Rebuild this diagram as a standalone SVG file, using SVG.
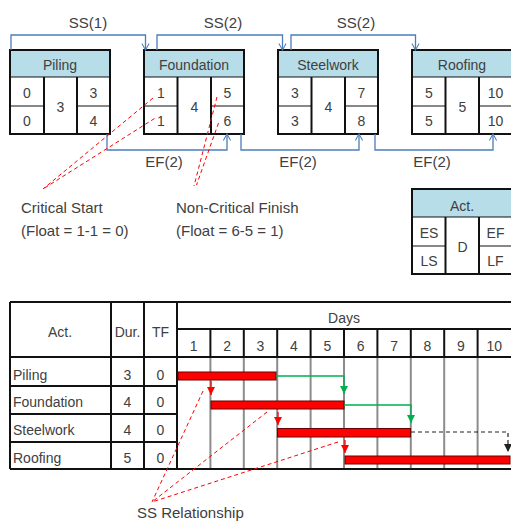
<svg xmlns="http://www.w3.org/2000/svg" width="511" height="522" viewBox="0 0 511 522">
<defs>
<style>
text{font-family:"Liberation Sans",Arial,sans-serif;fill:#404040;}
.t14{font-size:14px;}
.t15{font-size:15px;}
.c{text-anchor:middle;}
.hdr{fill:#b7dde8;}
.box{fill:none;stroke:#111;stroke-width:2;}
.ln{stroke:#111;stroke-width:2;fill:none;}
.thin{stroke:#111;stroke-width:1;fill:none;}
.blue{stroke:#4a7ebb;stroke-width:1.3;fill:none;}
.reddash{stroke:#ff0000;stroke-width:1;stroke-dasharray:4,3;fill:none;}
.gray{stroke:#8c8c8c;stroke-width:2;fill:none;}
.bar{fill:#ff0000;stroke:#6b0000;stroke-width:1;}
.green{stroke:#00b050;stroke-width:1.3;fill:none;}
.red{stroke:#ff0000;stroke-width:1.3;fill:none;}
.blk{stroke:#222;stroke-width:1.2;fill:none;stroke-dasharray:4,3;}
</style>
<marker id="chev" viewBox="0 0 10 10" refX="9" refY="5" markerWidth="8" markerHeight="9" markerUnits="userSpaceOnUse" orient="auto">
<path d="M1,0.5 L9,5 L1,9.5" fill="none" stroke="#4a7ebb" stroke-width="1.3"/>
</marker>
<marker id="tg" viewBox="0 0 10 10" refX="10" refY="5" markerWidth="8" markerHeight="9" markerUnits="userSpaceOnUse" orient="auto">
<path d="M0,0 L10,5 L0,10 Z" fill="#00b050"/>
</marker>
<marker id="tr" viewBox="0 0 10 10" refX="10" refY="5" markerWidth="8" markerHeight="9" markerUnits="userSpaceOnUse" orient="auto">
<path d="M0,0 L10,5 L0,10 Z" fill="#ff0000"/>
</marker>
<marker id="tk" viewBox="0 0 10 10" refX="10" refY="5" markerWidth="8" markerHeight="9" markerUnits="userSpaceOnUse" orient="auto">
<path d="M0,0 L10,5 L0,10 Z" fill="#222"/>
</marker>
</defs>
<rect width="511" height="522" fill="#fff"/>

<!-- Network nodes -->
<g id="node-piling">
<rect class="hdr" x="10" y="50" width="100" height="27"/>
<rect class="box" x="10" y="50" width="100" height="84"/>
<line class="thin" x1="10" y1="77" x2="110" y2="77"/>
<line class="ln" x1="44" y1="77" x2="44" y2="134"/>
<line class="ln" x1="77" y1="77" x2="77" y2="134"/>
<line class="thin" x1="10" y1="106" x2="44" y2="106"/>
<line class="thin" x1="77" y1="106" x2="110" y2="106"/>
<text class="t14 c" x="60" y="70">Piling</text>
<text class="t14 c" x="27" y="98">0</text>
<text class="t14 c" x="27" y="126">0</text>
<text class="t14 c" x="60.5" y="112">3</text>
<text class="t14 c" x="93.5" y="98">3</text>
<text class="t14 c" x="93.5" y="126">4</text>
</g>
<g id="node-foundation">
<rect class="hdr" x="144" y="50" width="100" height="27"/>
<rect class="box" x="144" y="50" width="100" height="84"/>
<line class="thin" x1="144" y1="77" x2="244" y2="77"/>
<line class="ln" x1="177.5" y1="77" x2="177.5" y2="134"/>
<line class="ln" x1="211" y1="77" x2="211" y2="134"/>
<line class="thin" x1="144" y1="106" x2="177.5" y2="106"/>
<line class="thin" x1="211" y1="106" x2="244" y2="106"/>
<text class="t14 c" x="194" y="70">Foundation</text>
<text class="t14 c" x="161" y="98">1</text>
<text class="t14 c" x="161" y="126">1</text>
<text class="t14 c" x="194.5" y="112">4</text>
<text class="t14 c" x="227.5" y="98">5</text>
<text class="t14 c" x="227.5" y="126">6</text>
</g>
<g id="node-steelwork">
<rect class="hdr" x="278" y="50" width="100" height="27"/>
<rect class="box" x="278" y="50" width="100" height="84"/>
<line class="thin" x1="278" y1="77" x2="378" y2="77"/>
<line class="ln" x1="311.5" y1="77" x2="311.5" y2="134"/>
<line class="ln" x1="345" y1="77" x2="345" y2="134"/>
<line class="thin" x1="278" y1="106" x2="311.5" y2="106"/>
<line class="thin" x1="345" y1="106" x2="378" y2="106"/>
<text class="t14 c" x="328" y="70">Steelwork</text>
<text class="t14 c" x="295" y="98">3</text>
<text class="t14 c" x="295" y="126">3</text>
<text class="t14 c" x="328.5" y="112">4</text>
<text class="t14 c" x="361.5" y="98">7</text>
<text class="t14 c" x="361.5" y="126">8</text>
</g>
<g id="node-roofing">
<rect class="hdr" x="412" y="50" width="100" height="27"/>
<rect class="box" x="412" y="50" width="100" height="84"/>
<line class="thin" x1="412" y1="77" x2="512" y2="77"/>
<line class="ln" x1="445.5" y1="77" x2="445.5" y2="134"/>
<line class="ln" x1="479" y1="77" x2="479" y2="134"/>
<line class="thin" x1="412" y1="106" x2="445.5" y2="106"/>
<line class="thin" x1="479" y1="106" x2="512" y2="106"/>
<text class="t14 c" x="462" y="70">Roofing</text>
<text class="t14 c" x="429" y="98">5</text>
<text class="t14 c" x="429" y="126">5</text>
<text class="t14 c" x="462.5" y="112">5</text>
<text class="t14 c" x="495.5" y="98">10</text>
<text class="t14 c" x="495.5" y="126">10</text>
</g>
<g id="node-legend">
<rect class="hdr" x="412" y="189" width="100" height="28"/>
<rect class="box" x="412" y="189" width="100" height="85"/>
<line class="thin" x1="412" y1="217" x2="512" y2="217"/>
<line class="ln" x1="445.5" y1="217" x2="445.5" y2="274"/>
<line class="ln" x1="479" y1="217" x2="479" y2="274"/>
<line class="thin" x1="412" y1="246" x2="445.5" y2="246"/>
<line class="thin" x1="479" y1="246" x2="512" y2="246"/>
<text class="t14 c" x="462" y="211">Act.</text>
<text class="t14 c" x="429" y="238">ES</text>
<text class="t14 c" x="429" y="266">LS</text>
<text class="t14 c" x="462.5" y="252">D</text>
<text class="t14 c" x="495.5" y="238">EF</text>
<text class="t14 c" x="495.5" y="266">LF</text>
</g>

<!-- Network connectors -->
<g id="connectors">
<path class="blue" d="M11,50 V35 H145.5 V50" marker-end="url(#chev)"/>
<path class="blue" d="M157,50 V35 H282.5 V50" marker-end="url(#chev)"/>
<path class="blue" d="M291,50 V35 H415.5 V50" marker-end="url(#chev)"/>
<path class="blue" d="M107,134 V150 H227 V134" marker-end="url(#chev)"/>
<path class="blue" d="M241,134 V150 H359 V134" marker-end="url(#chev)"/>
<path class="blue" d="M375,134 V150 H493 V134" marker-end="url(#chev)"/>
<text class="t15 c" x="88" y="28">SS(1)</text>
<text class="t15 c" x="223" y="28">SS(2)</text>
<text class="t15 c" x="356" y="28">SS(2)</text>
<text class="t15 c" x="164" y="167">EF(2)</text>
<text class="t15 c" x="298" y="167">EF(2)</text>
<text class="t15 c" x="432" y="167">EF(2)</text>
</g>

<!-- Annotations -->
<g id="annotations">
<path class="reddash" d="M153,98 L43,189"/>
<path class="reddash" d="M154.5,118.5 L43,189"/>
<path class="reddash" d="M217,97 L194,186"/>
<path class="reddash" d="M218.5,123 L196.5,185"/>
<text class="t15" x="21" y="213">Critical  Start</text>
<text class="t15" x="21" y="236">(Float = 1-1 = 0)</text>
<text class="t15" x="176" y="213">Non-Critical Finish</text>
<text class="t15" x="176" y="236">(Float = 6-5 = 1)</text>
</g>

<!-- Gantt chart -->
<g id="gantt-grid">
<line class="gray" x1="210.4" y1="357" x2="210.4" y2="469"/>
<line class="gray" x1="243.8" y1="357" x2="243.8" y2="469"/>
<line class="gray" x1="277.2" y1="357" x2="277.2" y2="469"/>
<line class="gray" x1="310.6" y1="357" x2="310.6" y2="469"/>
<line class="gray" x1="344" y1="357" x2="344" y2="469"/>
<line class="gray" x1="377.4" y1="357" x2="377.4" y2="469"/>
<line class="gray" x1="410.8" y1="357" x2="410.8" y2="469"/>
<line class="gray" x1="444.2" y1="357" x2="444.2" y2="469"/>
<line class="gray" x1="477.6" y1="357" x2="477.6" y2="469"/>
<line class="ln" x1="10" y1="302" x2="511" y2="302"/>
<line class="ln" x1="177" y1="329" x2="511" y2="329"/>
<line class="ln" x1="10" y1="357" x2="511" y2="357"/>
<line class="ln" x1="10" y1="386" x2="178" y2="386"/>
<line class="ln" x1="10" y1="414" x2="178" y2="414"/>
<line class="ln" x1="10" y1="442" x2="178" y2="442"/>
<line class="ln" x1="10" y1="469" x2="511" y2="469"/>
<line class="ln" x1="10" y1="302" x2="10" y2="469"/>
<line class="ln" x1="111" y1="302" x2="111" y2="469"/>
<line class="ln" x1="144" y1="302" x2="144" y2="469"/>
<line class="ln" x1="177" y1="302" x2="177" y2="469"/>
<line class="ln" x1="210.4" y1="329" x2="210.4" y2="357"/>
<line class="ln" x1="243.8" y1="329" x2="243.8" y2="357"/>
<line class="ln" x1="277.2" y1="329" x2="277.2" y2="357"/>
<line class="ln" x1="310.6" y1="329" x2="310.6" y2="357"/>
<line class="ln" x1="344" y1="329" x2="344" y2="357"/>
<line class="ln" x1="377.4" y1="329" x2="377.4" y2="357"/>
<line class="ln" x1="410.8" y1="329" x2="410.8" y2="357"/>
<line class="ln" x1="444.2" y1="329" x2="444.2" y2="357"/>
<line class="ln" x1="477.6" y1="329" x2="477.6" y2="357"/>
</g>
<g id="gantt-text">
<text class="t14 c" x="60" y="337">Act.</text>
<text class="t14 c" x="127.5" y="337">Dur.</text>
<text class="t14 c" x="160.5" y="337">TF</text>
<text class="t14 c" x="344" y="323">Days</text>
<text class="t14 c" x="193.7" y="351">1</text>
<text class="t14 c" x="227.1" y="351">2</text>
<text class="t14 c" x="260.5" y="351">3</text>
<text class="t14 c" x="293.9" y="351">4</text>
<text class="t14 c" x="327.3" y="351">5</text>
<text class="t14 c" x="360.7" y="351">6</text>
<text class="t14 c" x="394.1" y="351">7</text>
<text class="t14 c" x="427.5" y="351">8</text>
<text class="t14 c" x="460.9" y="351">9</text>
<text class="t14 c" x="494.3" y="351">10</text>
<text class="t14" x="13" y="380">Piling</text>
<text class="t14" x="13" y="407">Foundation</text>
<text class="t14" x="13" y="435">Steelwork</text>
<text class="t14" x="13" y="463">Roofing</text>
<text class="t14 c" x="127.5" y="380">3</text>
<text class="t14 c" x="127.5" y="407">4</text>
<text class="t14 c" x="127.5" y="435">4</text>
<text class="t14 c" x="127.5" y="463">5</text>
<text class="t14 c" x="160.5" y="380">0</text>
<text class="t14 c" x="160.5" y="407">0</text>
<text class="t14 c" x="160.5" y="435">0</text>
<text class="t14 c" x="160.5" y="463">0</text>
</g>
<g id="bar-piling"><rect class="bar" x="178" y="372" width="98" height="8"/></g>
<g id="bar-foundation"><rect class="bar" x="211" y="401" width="133" height="8"/></g>
<g id="bar-steelwork"><rect class="bar" x="277.5" y="428.5" width="133" height="8.5"/></g>
<g id="bar-roofing"><rect class="bar" x="345" y="456" width="165" height="8"/></g>
<g id="gantt-connectors">
<path class="green" d="M276,376 H344 V394" marker-end="url(#tg)"/>
<path class="green" d="M344,405 H411 V423" marker-end="url(#tg)"/>
<path class="blk" d="M411,432 H508 V452" marker-end="url(#tk)"/>
<path class="red" d="M211,381 V395" marker-end="url(#tr)"/>
<path class="red" d="M278,412 V425" marker-end="url(#tr)"/>
<path class="red" d="M345,440 V453" marker-end="url(#tr)"/>
<path class="reddash" d="M203,391 L152,502"/>
<path class="reddash" d="M267,412 L152,502"/>
<path class="reddash" d="M338,442 L152,502"/>
<text class="t15" x="137" y="518">SS Relationship</text>
</g>
</svg>
